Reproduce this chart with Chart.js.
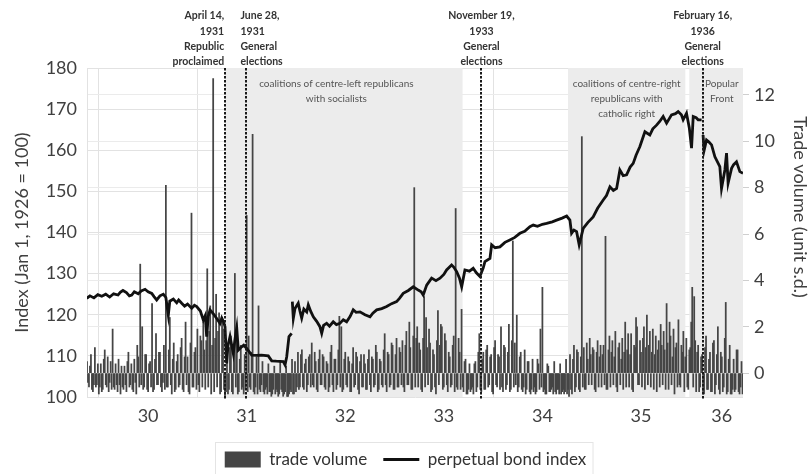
<!DOCTYPE html>
<html>
<head>
<meta charset="utf-8">
<script src="https://cdn.jsdelivr.net/npm/chart.js@4.4.1/dist/chart.umd.min.js"></script>
<style>
  html, body { margin: 0; padding: 0; background: #fff; }
</style>
</head>
<body>
<canvas id="bondChart" width="811" height="474"></canvas>
<script>
// trade volume (standardised), two values a week from late Nov 1929
let volStart = 29.88;
let volStep = 0.01;
let tradeVolume = [
  0.5, -0.4, -0.6, 0.3, 0.8, -0.7, -0.8, -0.5, 1.1, -0.6, -0.5, 0.4, -0.9, -0.6, 0.4, -0.8, -0.7, 0.6, 1.0, -0.5,
  -0.6, 0.7, -0.8, -0.4, 0.5, -0.7, 1.9, -0.6, -0.7, 0.4, -0.5, -0.8, 0.6, -0.5, -0.9, 0.3, -0.6, -0.7, 0.3, -0.5,
  -0.8, 0.5, 0.9, -0.6, -0.5, 0.4, -0.7, -0.8, 0.6, -0.4, -0.9, 1.2, 0.7, -0.6, 4.7, -0.5, 2.0, -0.7, -0.6, 0.8,
  0.8, -0.7, -0.8, 0.4, 0.5, -0.6, 3.0, -0.8, -0.7, 0.6, 1.7, -0.5, -0.5, 0.9, 0.9, -0.6, -0.8, -0.4, 1.2, -0.7,
  8.1, -0.6, -0.6, 1.0, 2.4, -0.5, -0.9, 0.6, 1.3, -0.8, -0.7, 0.5, 0.8, -0.6, -0.5, 1.1, 1.5, -0.7, -0.8, 0.7,
  2.2, -0.5, 0.7, -0.8, -0.9, 1.3, 6.9, -0.6, -0.6, 0.9, 1.1, -0.7, 1.9, -0.5, -0.8, 1.6, 1.4, -0.6, 2.2, 1.0,
  -0.7, 1.4, 4.5, -0.6, 1.8, 2.9, -0.9, 1.2, 12.7, -0.8, 1.5, 3.4, -0.6, 1.8, 2.6, -0.9, -0.8, 2.2, 1.9, -0.7,
  -1.0, -0.8, 0.9, -0.9, -0.7, 1.1, 1.6, -0.8, -0.9, 0.7, 4.3, -0.6, 2.0, -0.9, -0.8, 0.6, 1.2, -0.7, -0.6, -0.9,
  0.8, -0.7, 6.8, -0.8, 1.6, -0.6, -0.7, 0.9, 10.3, -0.8, -0.9, -0.6, 0.7, -0.9, 2.9, -0.7, -0.8, -0.5, 0.5, -0.8,
  -0.9, -0.7, -0.6, -0.9, 0.4, -0.8, -0.8, -1.0, -0.9, -0.7, 0.3, -0.9, -0.7, -0.8, -1.0, -0.9, 0.5, -0.7, -0.8, -1.0,
  -0.9, -0.8, 0.3, -1.0, -1.0, -0.9, -0.7, -0.8, 0.6, -0.9, -0.9, 0.5, -0.8, -0.6, 0.9, -0.7, -0.6, 0.8, 1.0, -0.6,
  -0.7, 0.4, 0.6, -0.8, -0.5, 0.7, 0.8, -0.6, 1.3, -0.5, -0.6, 0.9, 0.5, -0.7, -0.8, 0.6, 1.0, -0.5, -0.5, 0.8,
  0.7, -0.6, -0.7, 0.5, 0.4, -0.8, -0.6, 0.9, 1.2, -0.5, -0.8, 0.6, 0.6, -0.7, -0.5, 1.0, 2.45, -0.6, 2.0, -0.8,
  -0.7, 0.6, 0.9, -0.5, -0.6, 0.7, 0.5, -0.8, -0.8, 0.4, 1.1, -0.6, -0.5, 0.9, 0.7, -0.7, -0.9, 0.5, 0.8, -0.6,
  -0.6, 0.8, 0.4, -0.7, -0.7, 0.6, 1.0, -0.5, -0.8, 0.7, 0.6, -0.6, -0.5, 1.2, 0.9, -0.8, -0.7, 0.6, 0.5, -0.5,
  -0.6, 1.0, 1.7, -0.5, -0.8, 0.9, 0.8, -0.6, -0.5, 1.3, 1.2, -0.7, -0.7, 0.8, 1.5, -0.6, -0.6, 1.1, 0.9, -0.5,
  1.4, -0.6, -0.8, 1.2, 1.8, -0.5, -0.5, 2.2, 1.1, -0.7, -0.7, 1.6, 8.0, -0.6, 1.5, 2.0, -0.6, 1.3, 1.0, -0.7,
  -0.8, 1.5, 3.3, -0.6, 2.4, 1.1, -0.5, 1.9, 1.3, -0.8, -0.7, 1.0, 0.8, -0.6, -0.9, 1.4, 2.7, -0.5, 1.2, 2.1,
  2.0, -0.7, -0.6, 1.7, 1.4, -0.5, -0.8, 0.9, 0.7, -0.6, -0.5, 1.2, 1.6, -0.8, 7.1, -0.6, -0.7, 1.5, 0.9, -0.7,
  2.75, -0.6, -0.8, 0.5, 0.6, -0.9, -0.9, -0.7, 0.4, -0.8, -0.7, -0.6, -0.9, 0.4, 0.5, -0.8, -0.6, 0.9, 1.7, -0.7,
  -0.8, 0.6, 0.9, -0.7, -0.7, 1.0, 1.2, -0.6, -0.5, 0.7, 0.8, -0.8, -0.9, 1.1, 1.4, -0.5, -0.6, 0.8, 0.7, -0.7,
  2.0, -0.6, -0.8, 1.2, 1.1, -0.7, -0.5, 0.9, 2.1, -0.8, -0.7, 1.4, 5.7, -0.6, 1.3, -0.5, 2.5, -0.8, -0.6, 0.7,
  0.9, -0.7, -0.8, -0.6, 1.0, -0.9, -0.7, 0.5, 0.5, -0.8, -0.9, -0.7, 0.6, -0.8, -0.6, -0.9, -0.8, 0.6, 0.4, -0.7,
  1.9, -0.6, 3.7, -0.8, -0.7, -0.9, -0.9, 0.4, 0.3, -0.8, -0.8, -0.7, -0.6, -0.9, 0.5, -0.8, -0.9, -0.7, -0.7, -0.9,
  0.4, -0.9, -0.8, -0.7, -0.9, -0.8, 0.6, -0.9, -0.7, -1.0, 0.8, -0.7, -0.9, 0.6, 1.2, -0.8, -0.6, 1.0, 0.9, -0.7,
  -0.8, 0.7, 10.2, -0.6, 1.1, -0.7, -0.7, 1.3, 0.6, -0.5, 1.5, 0.8, -0.5, 1.1, 1.0, -0.7, -0.8, 0.9, 1.4, -0.6,
  0.7, 1.2, -0.6, 0.8, 1.2, -0.5, 5.9, -0.7, -0.7, 1.0, 1.6, -0.6, 0.9, 1.4, -0.5, 0.7, 1.8, -0.6, -0.8, 1.1,
  1.3, -0.5, 0.6, 1.5, -0.7, 0.9, 2.2, -0.6, 1.0, 1.7, -0.6, 0.8, 1.7, -0.7, -0.8, 1.2, 1.1, 2.4, 2.0, -0.5,
  -0.5, 1.4, 0.9, -0.6, 1.5, 2.0, -0.7, 1.1, 2.5, -0.5, 1.2, 1.8, -0.6, 0.9, 1.9, -0.7, 0.8, 1.6, -0.8, 1.0,
  1.4, -0.6, 2.1, 1.2, -0.5, 1.8, 1.0, -0.7, 3.0, 1.3, -0.7, 2.2, 1.6, -0.5, 0.7, 1.9, -0.9, 1.1, 1.3, -0.6,
  2.3, -0.5, -0.6, 1.2, 0.9, 1.8, -0.8, 0.7, 1.5, -0.6, -0.7, 1.0, 1.1, 2.2, 3.7, -0.6, 3.3, 1.4, -0.8, 0.9,
  1.2, -0.8, -0.6, 0.7, 0.8, -0.9, -0.9, 1.1, 1.6, -0.7, -0.7, 0.6, 0.9, -0.8, -0.8, 1.3, 1.4, -0.9, -0.5, 0.8,
  2.0, -0.7, -0.9, 0.9, 0.7, -0.8, -0.6, 1.5, 3.05, -0.9, -0.8, 0.6, 1.2, -0.9, -0.9, -0.7, 0.6, -0.8, -0.7, 1.0,
  1.0, -0.8, -0.9, -0.6, 0.5, -0.9
];

// perpetual bond index, dates as years since 1900
let bondDates = [
  29.877, 29.91, 29.95, 29.99, 30.03, 30.07, 30.11, 30.15, 30.195, 30.22,
  30.245, 30.28, 30.31, 30.334, 30.36, 30.40, 30.43, 30.469, 30.50, 30.537,
  30.56, 30.587, 30.62, 30.654, 30.68, 30.705, 30.72, 30.756, 30.79, 30.81,
  30.841, 30.87, 30.90, 30.942, 30.97, 30.993, 31.03, 31.06, 31.08, 31.094,
  31.11, 31.128, 31.16, 31.196, 31.229, 31.247, 31.265, 31.28, 31.297, 31.31,
  31.331, 31.364, 31.38, 31.399, 31.415, 31.449, 31.47, 31.50, 31.551, 31.60,
  31.65, 31.719, 31.754, 31.80, 31.871, 31.889, 31.906, 31.929, 31.956, 31.96,
  31.963, 31.973, 31.99, 32.023, 32.04, 32.058, 32.08, 32.109, 32.125, 32.15,
  32.176, 32.21, 32.243, 32.261, 32.28, 32.311, 32.34, 32.378, 32.41, 32.446,
  32.48, 32.514, 32.55, 32.581, 32.61, 32.649, 32.70, 32.751, 32.78, 32.819,
  32.87, 32.92, 32.97, 33.021, 33.05, 33.088, 33.14, 33.19, 33.24, 33.27,
  33.291, 33.326, 33.376, 33.42, 33.461, 33.50, 33.528, 33.579, 33.60, 33.63,
  33.66, 33.681, 33.714, 33.76, 33.798, 33.83, 33.866, 33.90, 33.917, 33.968,
  33.985, 34.02, 34.069, 34.12, 34.17, 34.22, 34.272, 34.32, 34.373, 34.407,
  34.45, 34.50, 34.543, 34.60, 34.644, 34.70, 34.746, 34.779, 34.796, 34.82,
  34.847, 34.873, 34.914, 34.96, 35.015, 35.06, 35.117, 35.15, 35.185, 35.22,
  35.253, 35.286, 35.32, 35.354, 35.39, 35.421, 35.45, 35.489, 35.54, 35.59,
  35.62, 35.658, 35.69, 35.725, 35.76, 35.81, 35.85, 35.877, 35.91, 35.928,
  35.962, 35.99, 36.013, 36.03, 36.06, 36.08, 36.115, 36.12, 36.13, 36.14,
  36.165, 36.19, 36.216, 36.25, 36.30, 36.317, 36.351, 36.368, 36.384, 36.419,
  36.44, 36.469, 36.503, 36.535
];
let bondIndex = [
  124.0, 124.6, 124.1, 124.9, 124.5, 125.0, 124.3, 125.1, 124.8, 125.5,
  125.9, 125.4, 124.6, 124.8, 125.6, 125.1, 125.8, 126.2, 125.6, 125.2,
  124.4, 123.6, 124.6, 125.0, 124.2, 119.9, 123.3, 123.8, 122.9, 123.6,
  122.8, 122.1, 122.6, 121.6, 122.3, 122.0, 120.9, 118.7, 119.8, 114.7,
  119.6, 121.2, 120.3, 119.1, 117.9, 119.2, 118.3, 117.1, 108.2, 112.5,
  114.7, 110.6, 113.8, 116.8, 111.4, 112.2, 112.6, 111.8, 110.2, 110.1,
  110.2, 110.0, 108.8, 108.7, 108.6, 107.8, 109.8, 114.7, 115.5, null,
  123.2, 119.1, 121.5, 122.8, 120.9, 119.2, 121.4, 120.7, 122.4, 120.8,
  119.5, 118.4, 117.1, 115.5, 117.4, 117.9, 117.2, 118.3, 117.6, 117.9,
  118.8, 118.3, 119.6, 121.2, 120.6, 120.7, 120.0, 119.5, 120.4, 121.2,
  121.5, 122.0, 122.7, 123.2, 124.0, 125.2, 125.9, 126.8, 126.0, 125.6,
  124.8, 127.2, 128.9, 128.3, 128.9, 129.8, 130.9, 132.1, 131.6, 130.5,
  128.8, 126.8, 130.9, 130.6, 131.3, 130.2, 129.3, 131.4, 132.9, 133.7,
  137.0, 136.3, 136.5, 137.6, 138.2, 138.8, 139.8, 140.3, 141.4, 141.8,
  141.5, 142.0, 142.2, 142.6, 143.0, 143.5, 144.0, 143.0, 139.8, 140.6,
  140.2, 137.0, 141.0, 142.4, 143.8, 145.9, 147.9, 149.0, 151.1, 150.2,
  150.7, 155.2, 153.8, 154.0, 155.9, 156.8, 158.8, 160.9, 164.5, 163.7,
  165.2, 166.1, 167.0, 168.2, 166.6, 168.6, 168.9, 169.4, 168.6, 167.4,
  169.0, 165.5, 160.5, 168.2, 167.9, 167.4, 167.4, null, 163.7, 159.9,
  162.5, 162.0, 161.3, 158.4, 156.0, 150.7, 155.2, 159.3, 152.0, 155.6,
  156.5, 157.2, 154.8, 154.4
];

let indexTicks = [100, 110, 120, 130, 140, 150, 160, 170, 180];
let volumeTicks = [0, 2, 4, 6, 8, 10, 12];
let yearStarts = [30, 31, 32, 33, 34, 35, 36];
let yearMids = [30.5, 31.5, 32.5, 33.5, 34.5, 35.5, 36.32];
let yearLabels = ['30', '31', '32', '33', '34', '35', '36'];

let eventDates = [31.282, 31.488, 33.882, 36.126];
let eventText = [
  ['April 14,', '1931', 'Republic', 'proclaimed'],
  ['June 28,', '1931', 'General', 'elections'],
  ['November 19,', '1933', 'General', 'elections'],
  ['February 16,', '1936', 'General', 'elections']
];

let periodStart = [31.282, 34.76, 35.99];
let periodEnd = [33.69, 35.95, 36.535];
let periodText = [
  ['coalitions of centre-left republicans', 'with socialists'],
  ['coalitions of centre-right', 'republicans with', 'catholic right'],
  ['Popular', 'Front']
];

Chart.defaults.font.family = 'Lato, "Open Sans", sans-serif';
Chart.defaults.color = '#404040';

const eventAlign = ['right', 'left', 'center', 'center'];
const eventShift = [-1, -5, 0, 0];
const periodLabelAt = [32.41, 35.355, 36.32];

// shaded government periods, event markers and their captions
const periodsPlugin = {
  id: 'periods',
  beforeDatasetsDraw(chart) {
    const {ctx, chartArea, scales} = chart;
    const x = scales.x;
    ctx.save();
    ctx.fillStyle = '#ececec';
    periodStart.forEach((s, i) => {
      const a = x.getPixelForValue(s);
      const b = x.getPixelForValue(periodEnd[i]);
      ctx.fillRect(a, chartArea.top, b - a, chartArea.bottom - chartArea.top);
    });
    ctx.fillStyle = '#555';
    ctx.font = '10px Lato';
    ctx.textAlign = 'center';
    ctx.textBaseline = 'middle';
    periodText.forEach((lines, i) => {
      const px = x.getPixelForValue(periodLabelAt[i]);
      lines.forEach((t, k) => ctx.fillText(t, px, chartArea.top + 15.5 + k * 15));
    });
    ctx.restore();
  },
  afterDatasetsDraw(chart) {
    const {ctx, chartArea, scales} = chart;
    ctx.save();
    ctx.strokeStyle = '#1a1a1a';
    ctx.lineWidth = 2;
    ctx.setLineDash([2.5, 1.5]);
    eventDates.forEach((d) => {
      const px = Math.round(scales.x.getPixelForValue(d));
      ctx.beginPath();
      ctx.moveTo(px, chartArea.top);
      ctx.lineTo(px, chartArea.bottom + 2);
      ctx.stroke();
    });
    ctx.restore();
  },
  afterDraw(chart) {
    const {ctx, chartArea, scales} = chart;
    ctx.save();
    ctx.fillStyle = '#333';
    ctx.font = 'bold 10.5px Lato';
    ctx.textBaseline = 'middle';
    eventDates.forEach((d, i) => {
      const px = scales.x.getPixelForValue(d) + eventShift[i];
      ctx.textAlign = eventAlign[i];
      eventText[i].forEach((t, k) => {
        ctx.fillText(t, px, chartArea.top - 6 - (3 - k) * 15.3);
      });
    });

    // right axis title, sits a little above the middle
    ctx.save();
    ctx.translate(800, 207);
    ctx.rotate(Math.PI / 2);
    ctx.fillStyle = '#404040';
    ctx.font = '18px Lato';
    ctx.textAlign = 'center';
    ctx.fillText('Trade volume (unit s.d.)', 0, 0);
    ctx.restore();

    // thin frame round the legend
    const boxes = chart.legend.legendHitBoxes;
    if (boxes.length) {
      const first = boxes[0];
      const last = boxes[boxes.length - 1];
      const l = first.left - 10;
      const r = last.left + last.width + 6;
      ctx.strokeStyle = '#e4e4e4';
      ctx.lineWidth = 1;
      ctx.strokeRect(Math.round(l) + 0.5, Math.round(first.top) - 8.5, r - l, 60);
    }
    ctx.restore();
  }
};

let ctx = document.getElementById('bondChart').getContext('2d');
let myChart = new Chart(ctx, {
  type: 'bar',
  data: {
    datasets: [{
      label: 'trade volume',
      data: tradeVolume.map((v, i) => ({x: volStart + i * volStep, y: v})),
      yAxisID: 'y2',
      backgroundColor: '#454545',
      barThickness: 1.1,
      pointStyle: 'rect',
      order: 1
    }, {
      type: 'line',
      label: 'perpetual bond index',
      data: bondDates.map((d, i) => ({x: d, y: bondIndex[i]})),
      yAxisID: 'y',
      borderColor: '#111',
      backgroundColor: '#111',
      borderWidth: 2.8,
      pointRadius: 0,
      pointStyle: 'line',
      spanGaps: false,
      tension: 0,
      order: 0
    }]
  },
  options: {
    responsive: false,
    animation: false,
    layout: {
      padding: {top: 68, left: 0, right: 0, bottom: -4}
    },
    plugins: {
      legend: {
        position: 'bottom',
        labels: {
          usePointStyle: true,
          pointStyleWidth: 36,
          boxHeight: 16,
          padding: 16,
          color: '#333',
          font: {size: 17},
          sort: (a, b) => a.datasetIndex - b.datasetIndex
        }
      },
      tooltip: {enabled: false}
    },
    scales: {
      x: {
        type: 'linear',
        offset: false,
        min: 29.88,
        max: 36.535,
        afterBuildTicks: (scale) => {
          scale.ticks = yearStarts.concat(yearMids).sort((a, b) => a - b).map((v) => ({value: v}));
        },
        afterFit: (scale) => { scale.height = 38; },
        grid: {
          offset: false,
          color: (c) => Number.isInteger(c.tick && c.tick.value) ? '#e2e2e2' : 'rgba(0,0,0,0)',
          drawTicks: false
        },
        border: {display: false},
        ticks: {
          autoSkip: false,
          maxRotation: 0,
          padding: 8,
          font: {size: 18},
          callback: (v) => {
            const k = yearMids.indexOf(v);
            return k < 0 ? '' : yearLabels[k];
          }
        }
      },
      y: {
        position: 'left',
        min: 100,
        max: 180,
        afterBuildTicks: (scale) => { scale.ticks = indexTicks.map((v) => ({value: v})); },
        afterFit: (scale) => { scale.width = 87; },
        grid: {color: '#e2e2e2', drawTicks: false},
        border: {display: true, color: '#e2e2e2'},
        ticks: {padding: 10, font: {size: 18}},
        title: {
          display: true,
          text: 'Index (Jan 1, 1926 = 100)',
          font: {size: 18},
          padding: {top: 11, bottom: 0}
        }
      },
      y2: {
        position: 'right',
        min: -1.03,
        max: 13.16,
        afterBuildTicks: (scale) => { scale.ticks = volumeTicks.map((v) => ({value: v})); },
        afterFit: (scale) => { scale.width = 68; },
        grid: {color: '#ebebeb', tickColor: '#cfcfcf', tickLength: 6},
        border: {display: false},
        ticks: {padding: 5, font: {size: 18}}
      }
    }
  },
  plugins: [periodsPlugin]
});
</script>
</body>
</html>
